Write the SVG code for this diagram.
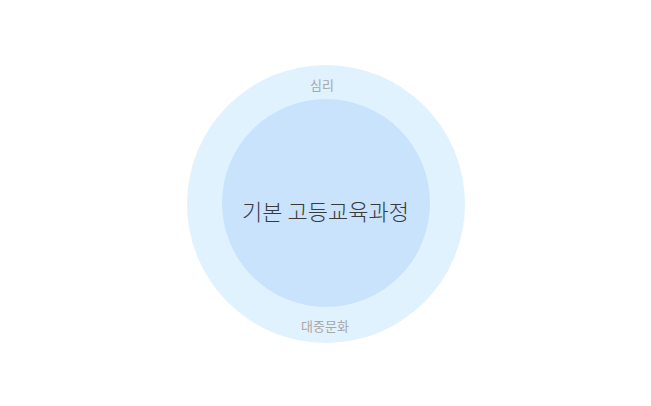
<svg xmlns="http://www.w3.org/2000/svg" width="651" height="406" viewBox="0 0 651 406">
<style>
.lbl{font-family:"Noto Sans CJK KR","Noto Sans",sans-serif;fill:#a8a8a8;font-size:13px;text-anchor:middle}
.main{font-family:"Noto Sans CJK KR","Noto Sans",sans-serif;fill:#3a3a3a;font-size:22px;font-weight:300;text-anchor:middle}
</style>
<rect width="651" height="406" fill="#ffffff"/>
<g id="outer">
<circle cx="326" cy="204" r="139" fill="#e0f2fe"/>
<text class="lbl" x="322" y="90">심리</text>
<text class="lbl" x="325" y="331">대중문화</text>
</g>
<g id="inner">
<circle cx="326" cy="203" r="104" fill="#c8e3fb"/>
<text class="main" x="325.5" y="220">기본 고등교육과정</text>
</g>
<g id="connectors"></g>
</svg>
